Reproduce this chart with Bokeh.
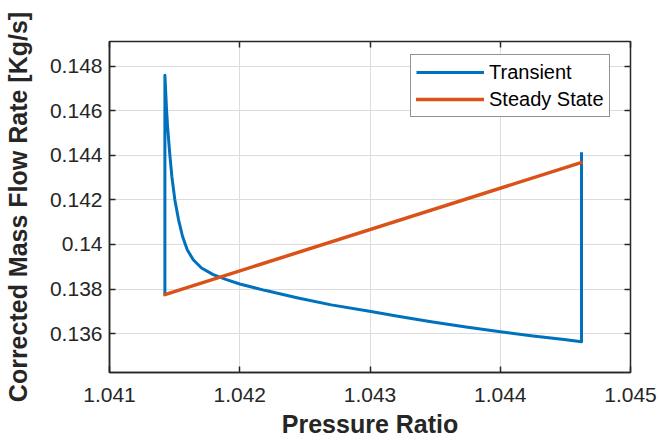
from bokeh.plotting import figure
from bokeh.models import (LinearAxis, FixedTicker, CustomJSTickFormatter, Legend,
                          LegendItem, Range1d)
from bokeh.embed import file_html
from bokeh.resources import INLINE

# ---- data ----
transient_x = [1.0414253, 1.0414253, 1.0414383, 1.0414460, 1.0414636, 1.0414789,
               1.0415019, 1.0415303, 1.0415609, 1.0415969, 1.0416429, 1.0417065,
               1.0417962, 1.0418981, 1.0420000, 1.0421916, 1.0424475, 1.0427027,
               1.0429962, 1.0432138, 1.0434690, 1.0437241, 1.0440000, 1.0442352,
               1.0444904, 1.0446238, 1.0446238]
transient_y = [0.137730, 0.147584, 0.146020, 0.145274, 0.143996, 0.143039,
               0.141998, 0.141104, 0.140358, 0.139763, 0.139316, 0.138945,
               0.138646, 0.138422, 0.138230, 0.137944, 0.137604, 0.137292,
               0.137006, 0.136782, 0.136532, 0.136308, 0.136085, 0.135906,
               0.135741, 0.135638, 0.144140]
steady_x = [1.0414253, 1.04462]
steady_y = [0.13775, 0.14367]

x_ticks = [1.041, 1.042, 1.043, 1.044, 1.045]
x_tick_labels = ["1.041", "1.042", "1.043", "1.044", "1.045"]
y_ticks = [0.136, 0.138, 0.14, 0.142, 0.144, 0.146, 0.148]
y_tick_labels = ["0.136", "0.138", "0.14", "0.142", "0.144", "0.146", "0.148"]

x_label = "Pressure Ratio"
y_label = "Corrected Mass Flow Rate [Kg/s]"
series_names = ["Transient", "Steady State"]

DARK = "#262626"
FONT = "Liberation Sans"

p = figure(width=660, height=441, output_backend="svg", toolbar_location=None,
           x_range=Range1d(1.041, 1.045), y_range=Range1d(0.13426, 0.14910),
           min_border_left=108, min_border_right=30, min_border_top=41,
           min_border_bottom=69)
p.background_fill_color = "white"
p.border_fill_color = "white"
p.outline_line_color = DARK
p.outline_line_width = 1.5

for ax, ticks, labels in ((p.xaxis[0], x_ticks, x_tick_labels),
                          (p.yaxis[0], y_ticks, y_tick_labels)):
    ax.ticker = FixedTicker(ticks=ticks)
    ax.major_label_overrides = {t: l for t, l in zip(ticks, labels)}
    ax.major_label_text_font = FONT
    ax.major_label_text_font_size = "21px"
    ax.major_label_text_color = DARK
    ax.axis_line_color = DARK
    ax.axis_line_width = 1.5
    ax.major_tick_line_color = DARK
    ax.major_tick_line_width = 1.5
    ax.major_tick_in = 6
    ax.major_tick_out = 0
    ax.minor_tick_line_color = None
    ax.axis_label_text_font = FONT
    ax.axis_label_text_font_size = "25px"
    ax.axis_label_text_font_style = "bold"
    ax.axis_label_text_color = DARK

p.xaxis[0].axis_label = x_label
p.yaxis[0].axis_label = y_label
p.xaxis[0].major_label_standoff = 15
p.xaxis[0].axis_label_standoff = 5
p.yaxis[0].major_label_standoff = 7
p.yaxis[0].axis_label_standoff = 15

# mirrored ticks on top and right
for loc, ticks in (("above", x_ticks), ("right", y_ticks)):
    ax = LinearAxis(ticker=FixedTicker(ticks=ticks),
                    formatter=CustomJSTickFormatter(code="return ''"))
    ax.axis_line_color = None
    ax.major_tick_line_color = DARK
    ax.major_tick_line_width = 1.5
    ax.major_tick_in = 6
    ax.major_tick_out = 0
    ax.minor_tick_line_color = None
    ax.major_label_standoff = 0
    p.add_layout(ax, loc)

p.xgrid.ticker = FixedTicker(ticks=x_ticks)
p.ygrid.ticker = FixedTicker(ticks=y_ticks)
p.grid.grid_line_color = "#dcdcdc"
p.grid.grid_line_width = 1

r1 = p.line(transient_x, transient_y, line_color="#0072BD", line_width=3,
            line_join="round")
r2 = p.line(steady_x, steady_y, line_color="#D95319", line_width=3.5,
            line_cap="round")

legend = Legend(items=[LegendItem(label=series_names[0], renderers=[r1]),
                       LegendItem(label=series_names[1], renderers=[r2])],
                location=(301, 255))
legend.margin = 0
legend.padding = 5
legend.spacing = 3
legend.glyph_width = 68
legend.glyph_height = 24
legend.label_standoff = 5
legend.label_text_font = FONT
legend.label_text_font_size = "20px"
legend.label_text_color = "black"
legend.border_line_color = DARK
legend.border_line_width = 1
legend.background_fill_color = "white"
legend.background_fill_alpha = 1
p.add_layout(legend, "center")

open("out.html", "w").write(file_html(p, INLINE))
